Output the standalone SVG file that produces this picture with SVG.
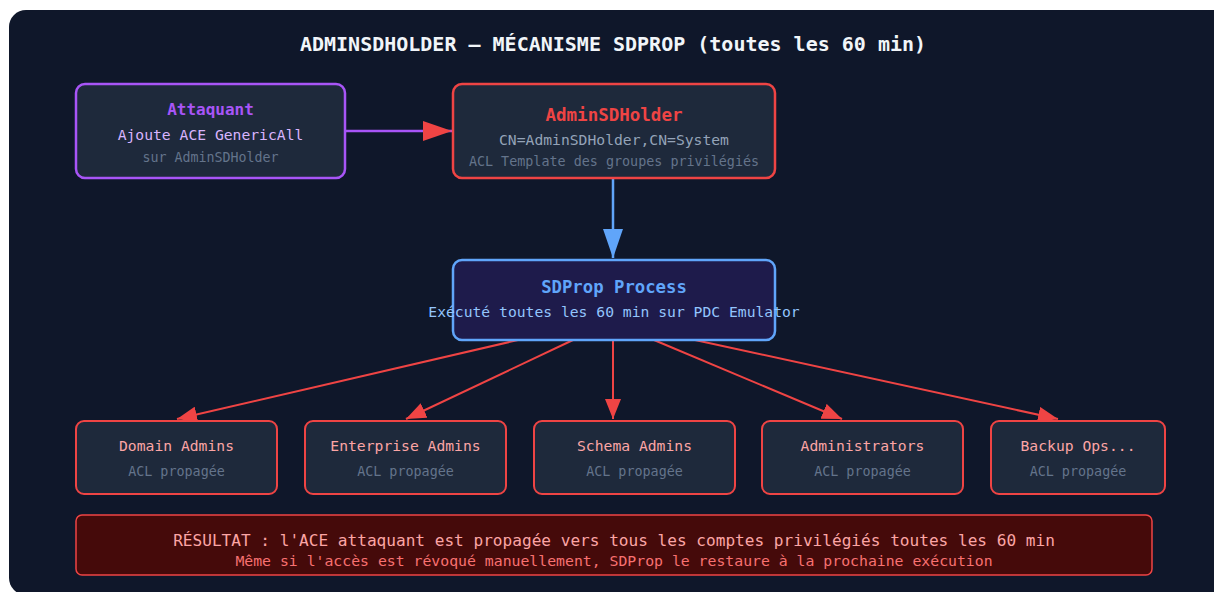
<svg xmlns="http://www.w3.org/2000/svg" width="1214" height="592" viewBox="0 0 1214 592">
<defs>
<style>
text{font-family:"DejaVu Sans Mono","Liberation Mono",monospace;text-anchor:middle}
.b{font-weight:bold}
.g{stroke:#ef4444;stroke-width:2;fill:#1e293b}
.gt{font-size:14.7px;fill:#fca5a5}
.gs{font-size:13.4px;fill:#64748b}
.red{stroke:#ef4444;stroke-width:2;fill:none}
</style>
<marker id="mr" markerUnits="userSpaceOnUse" markerWidth="22" markerHeight="16" refX="20" refY="8" orient="auto">
<path d="M0,0 L20,8 L0,16 Z" fill="#ef4444"/>
</marker>
<marker id="mbig" markerUnits="userSpaceOnUse" markerWidth="30" markerHeight="20" refX="29" refY="10" orient="auto">
<path d="M0,0 L29,10 L0,20 Z" fill="#ef4444"/>
</marker>
<marker id="mblue" markerUnits="userSpaceOnUse" markerWidth="30" markerHeight="20" refX="29" refY="10" orient="auto">
<path d="M0,0 L29,10 L0,20 Z" fill="#60a5fa"/>
</marker>
</defs>
<rect x="0" y="0" width="1214" height="592" fill="#ffffff"/>
<rect x="9" y="10" width="1225" height="585" rx="17" fill="#0f172a"/>
<text x="613" y="51" class="b" font-size="20" fill="#f1f5f9">ADMINSDHOLDER — MÉCANISME SDPROP (toutes les 60 min)</text>

<g id="connectors">
<line x1="345" y1="131" x2="452" y2="131" stroke="#a855f7" stroke-width="2.5" marker-end="url(#mbig)"/>
<line x1="613" y1="178" x2="613" y2="258" stroke="#60a5fa" stroke-width="2.5" marker-end="url(#mblue)"/>
<line x1="518" y1="340" x2="177" y2="419" class="red" marker-end="url(#mr)"/>
<line x1="573" y1="340" x2="406" y2="419" class="red" marker-end="url(#mr)"/>
<line x1="613" y1="340" x2="613" y2="419" class="red" marker-end="url(#mr)"/>
<line x1="654" y1="340" x2="842" y2="419" class="red" marker-end="url(#mr)"/>
<line x1="695" y1="340" x2="1058" y2="419" class="red" marker-end="url(#mr)"/>
</g>

<g id="attaquant">
<rect x="76" y="84" width="269" height="94" rx="9" fill="#1e293b" stroke="#a855f7" stroke-width="2.5"/>
<text x="210.5" y="115" class="b" font-size="16" fill="#a855f7">Attaquant</text>
<text x="210.5" y="140" font-size="14.7" fill="#d8b4fe">Ajoute ACE GenericAll</text>
<text x="210.5" y="162" font-size="13.3" fill="#64748b">sur AdminSDHolder</text>
</g>

<g id="adminsdholder">
<rect x="453" y="84" width="322" height="94" rx="9" fill="#1e293b" stroke="#ef4444" stroke-width="2.5"/>
<text x="614" y="121" class="b" font-size="17.5" fill="#ef4444">AdminSDHolder</text>
<text x="614" y="145" font-size="14.7" fill="#94a3b8">CN=AdminSDHolder,CN=System</text>
<text x="614" y="166" font-size="13.4" fill="#64748b">ACL Template des groupes privilégiés</text>
</g>

<g id="sdprop">
<rect x="453" y="260" width="322" height="80" rx="9" fill="#1e1b4b" stroke="#60a5fa" stroke-width="2.5"/>
<text x="614" y="293" class="b" font-size="17.3" fill="#60a5fa">SDProp Process</text>
<text x="614" y="317" font-size="14.7" fill="#93c5fd">Exécuté toutes les 60 min sur PDC Emulator</text>
</g>

<g id="domain-admins">
<rect x="76" y="421" width="201" height="73" rx="8" class="g"/>
<text x="176.5" y="451" class="gt">Domain Admins</text>
<text x="176.5" y="476" class="gs">ACL propagée</text>
</g>
<g id="enterprise-admins">
<rect x="305" y="421" width="201" height="73" rx="8" class="g"/>
<text x="405.5" y="451" class="gt">Enterprise Admins</text>
<text x="405.5" y="476" class="gs">ACL propagée</text>
</g>
<g id="schema-admins">
<rect x="534" y="421" width="201" height="73" rx="8" class="g"/>
<text x="634.5" y="451" class="gt">Schema Admins</text>
<text x="634.5" y="476" class="gs">ACL propagée</text>
</g>
<g id="administrators">
<rect x="762" y="421" width="201" height="73" rx="8" class="g"/>
<text x="862.5" y="451" class="gt">Administrators</text>
<text x="862.5" y="476" class="gs">ACL propagée</text>
</g>
<g id="backup-ops">
<rect x="991" y="421" width="174" height="73" rx="8" class="g"/>
<text x="1078" y="451" class="gt">Backup Ops...</text>
<text x="1078" y="476" class="gs">ACL propagée</text>
</g>

<g id="resultat">
<rect x="76" y="515" width="1076" height="60" rx="6" fill="#450a0a" stroke="#ef4444" stroke-width="1.5"/>
<text x="614" y="546" font-size="16.1" fill="#fca5a5">RÉSULTAT : l'ACE attaquant est propagée vers tous les comptes privilégiés toutes les 60 min</text>
<text x="614" y="566" font-size="14.8" fill="#f87171">Même si l'accès est révoqué manuellement, SDProp le restaure à la prochaine exécution</text>
</g>
</svg>
